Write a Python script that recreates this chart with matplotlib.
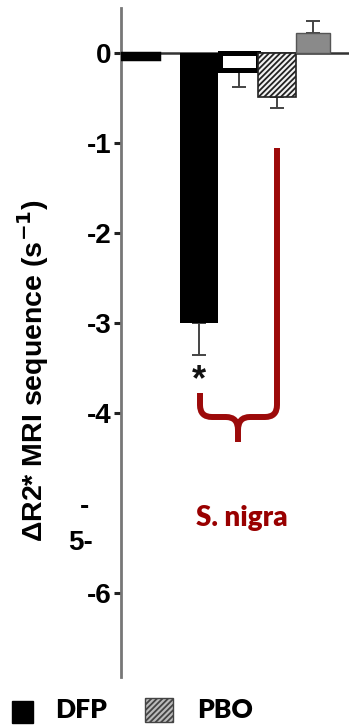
import matplotlib
matplotlib.use('Agg')
import matplotlib.pyplot as plt
import numpy as np
from matplotlib.path import Path
from matplotlib.patches import PathPatch, Rectangle
from matplotlib.transforms import Affine2D

# values
groups = ['ctrl', 'DFP', 'open', 'PBO', 'gray']
values = [-0.07, -3.0, -0.19, -0.49, 0.22]
errors = [0.0, 0.35, 0.19, 0.12, 0.14]
ytick_vals = [0, -1, -2, -3, -4, -6]
ytick_labels = ['0', '-1', '-2', '-3', '-4', '-6']

positions = [0.5, 2.0, 3.02, 4.0, 4.93]
widths = [0.97, 0.97, 0.97, 0.97, 0.87]

plt.rcParams['hatch.color'] = '#2a2a2a'
plt.rcParams['hatch.linewidth'] = 1.3

fig = plt.figure(figsize=(3.49, 7.28), dpi=100)
ax = fig.add_axes([121/349, 51/728, 227/349, 669/728])

bold = dict(family='Liberation Sans', fontweight='bold')
calib = dict(family='Lato', fontweight='heavy')

faces = ['black', 'black', 'white', '#f2f2f2', '#8a8a8a']
edges = ['black', 'black', 'black', '#222222', '#555555']
lws = [2.5, 0, 3.6, 1.2, 1.0]
hatches = [None, None, None, '//////', None]

for i in range(len(groups)):
    ax.bar(positions[i], values[i], widths[i], color=faces[i], edgecolor=edges[i],
           linewidth=lws[i], hatch=hatches[i], zorder=3)
    if errors[i] > 0:
        yerr = [[0], [errors[i]]] if values[i] > 0 else [[errors[i]], [0]]
        ax.errorbar(positions[i], values[i], yerr=yerr, fmt='none', ecolor='#444444',
                    elinewidth=1.4, capsize=5, capthick=1.4, zorder=2)

ax.set_xlim(0, 5.82)
ax.set_ylim(-6.93, 0.5)
ax.spines['top'].set_visible(False)
ax.spines['right'].set_visible(False)
ax.spines['bottom'].set_position(('data', 0))
ax.spines['bottom'].set_linewidth(1.8)
ax.spines['bottom'].set_color('#333333')
ax.spines['left'].set_linewidth(2)
ax.spines['left'].set_color('#777777')
ax.set_xticks([])
ax.set_yticks(ytick_vals)
ax.set_yticklabels(ytick_labels, fontsize=20, **bold)
ax.tick_params(axis='y', length=5, width=2.2, color='#222222', pad=2)

# odd label at -5 as in the source figure
yt = ax.get_yaxis_transform()
ax.text(-0.16, -5.04, '-', transform=yt, ha='center', va='center', fontsize=20, **bold)
ax.text(-0.125, -5.44, '5-', transform=yt, ha='right', va='center', fontsize=20, **bold)

fig.text(33/349, 1 - 371/728, 'ΔR2* MRI sequence (s$^{\\mathbf{-1}}$)', rotation=90,
         ha='center', va='center', fontsize=20.5, **bold)

ax.text(2.0, -3.64, '*', ha='center', va='center', fontsize=26, color='#111111', **bold)

# red brace under S. nigra groups
px = Affine2D().scale(1/349, -1/728).translate(0, 1) + fig.transFigure
verts = [(277, 148), (277, 405), (277, 417), (265, 417), (250, 417), (238, 417), (238, 430), (238, 442),
         (238, 430), (238, 417), (226, 417), (212, 417), (200, 417), (200, 405), (200, 393)]
codes = [Path.MOVETO, Path.LINETO, Path.CURVE3, Path.CURVE3, Path.LINETO, Path.CURVE3, Path.CURVE3, Path.LINETO,
         Path.MOVETO, Path.CURVE3, Path.CURVE3, Path.LINETO, Path.CURVE3, Path.CURVE3, Path.LINETO]
fig.patches.append(PathPatch(Path(verts, codes), transform=px, fill=False,
                             edgecolor='#9c0a0a', linewidth=4.3, capstyle='butt'))
fig.text(242/349, 1 - 518/728, 'S. nigra', ha='center', va='center', color='#990000',
         fontsize=20, **calib)

# legend drawn by hand
fig.patches.append(Rectangle((12, 723), 21, -22, transform=px, facecolor='black', edgecolor='black'))
fig.patches.append(Rectangle((145, 722), 28, -24, transform=px, facecolor='#bbbbbb',
                             edgecolor='#444444', hatch='//////', linewidth=1))
fig.text(55/349, 1 - 718/728, 'DFP', ha='left', va='baseline', fontsize=19, **calib)
fig.text(197/349, 1 - 718/728, 'PBO', ha='left', va='baseline', fontsize=19, **calib)

fig.savefig('out.png', dpi=100)
